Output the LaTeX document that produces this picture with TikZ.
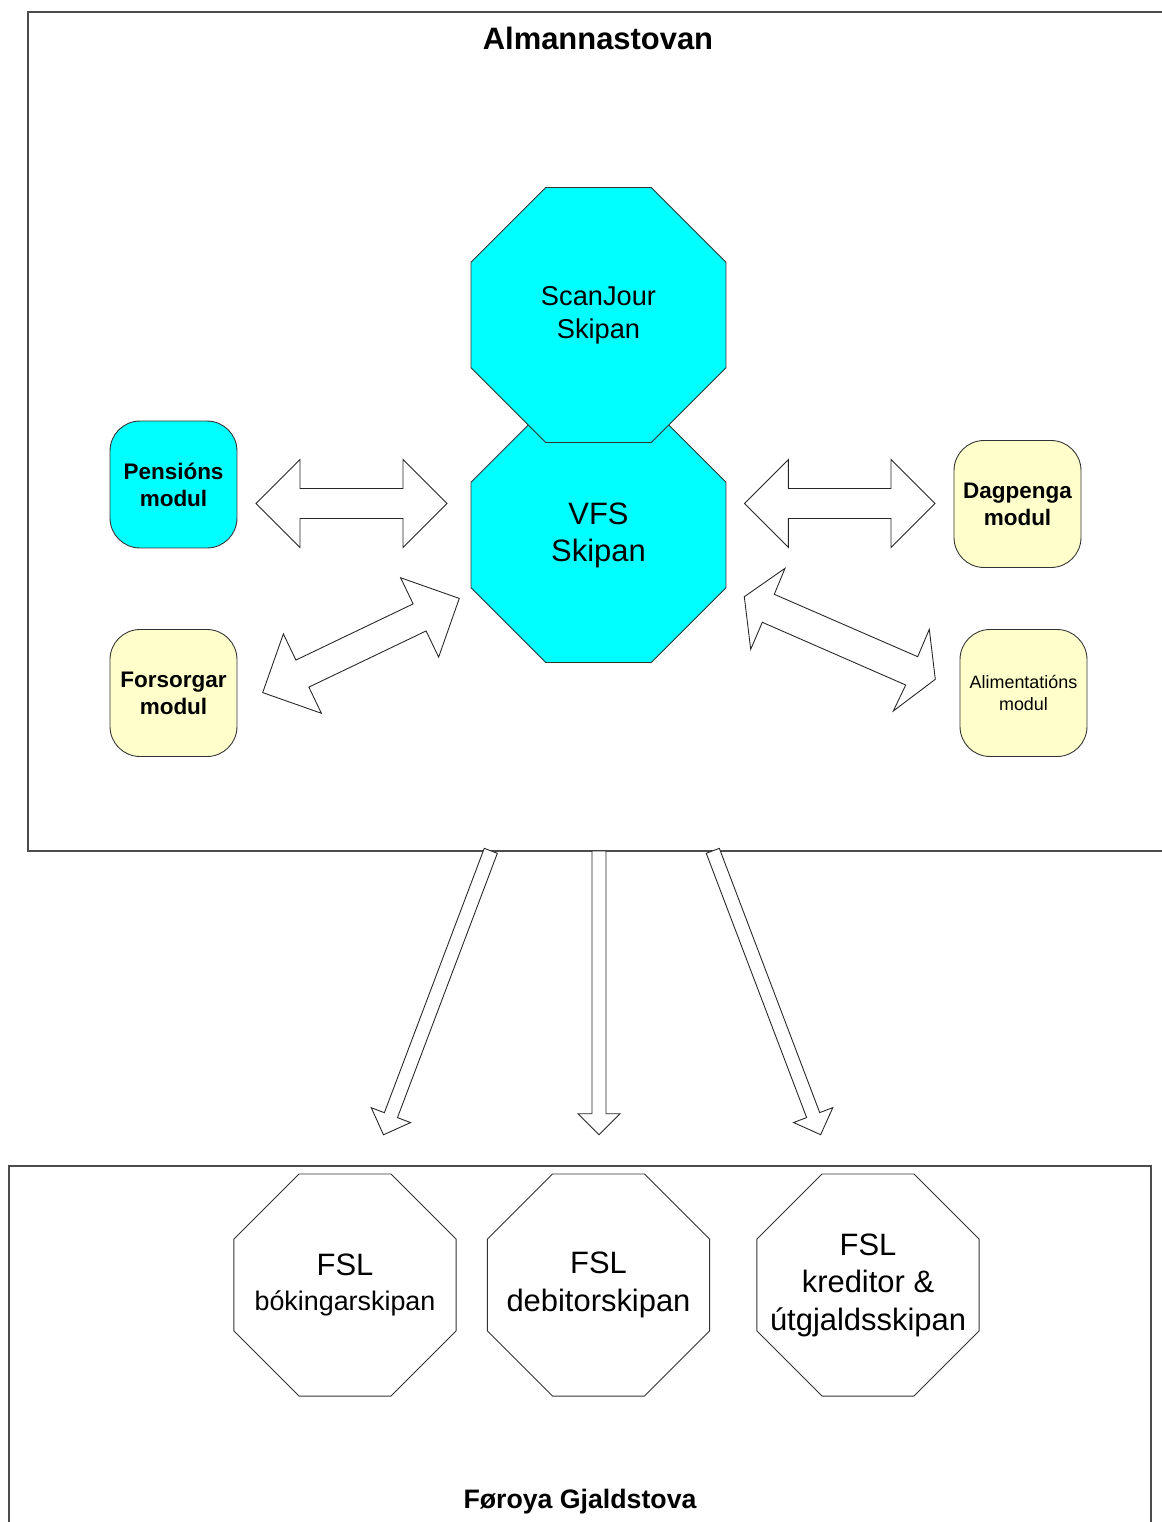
\documentclass[tikz,border=0pt]{standalone}
\usepackage{fontspec}
\setmainfont{Liberation Sans}
\usetikzlibrary{shapes.geometric,positioning}

\definecolor{vfscyan}{RGB}{0,255,255}
\definecolor{modyellow}{RGB}{255,255,204}

\begin{document}
\begin{tikzpicture}[x=0.02cm, y=-0.02cm,
  frame/.style={draw=black!70, line width=0.8pt},
  oct/.style={regular polygon, regular polygon sides=8, draw=black!80, line width=0.5pt, inner sep=0pt, align=center},
  octtext/.style={inner sep=0pt, align=center},
  modbox/.style={draw=black!80, line width=0.5pt, rounded corners=0.6cm, minimum width=2.54cm, minimum height=2.54cm, inner sep=0pt, align=center},
  blockarrow/.style={draw=black!85, line width=0.5pt, fill=white, line join=miter}
]
  \useasboundingbox (0,0) rectangle (1161,1522);

  % Rammur
  \draw[frame] (1170,12) -- (28,12) -- (28,851) -- (1170,851);
  \draw[frame] (9,1540) -- (9,1166) -- (1151,1166) -- (1151,1540);

  \node[font=\bfseries\fontsize{17.6}{21}\selectfont] (almanna) at (598,38) {Almannastovan};
  \node[font=\bfseries\fontsize{15.2}{18}\selectfont] (gjaldstova) at (580,1502) {Føroya Gjaldstova};

  % Skipanir
  \node[oct, fill=vfscyan, minimum size=5.52cm, font=\fontsize{17.6}{21}\selectfont] (vfs) at (598.5,535) {VFS\\Skipan};
  \node[oct, fill=vfscyan, minimum size=5.52cm, font=\fontsize{15.5}{18.8}\selectfont] (scanjour) at (598.5,315) {ScanJour\\Skipan};

  \node[modbox, fill=vfscyan, font=\bfseries\fontsize{12.8}{15.4}\selectfont] (pension) at (173.5,484.5) {Pensións\\modul};
  \node[modbox, fill=modyellow, font=\bfseries\fontsize{12.8}{15.4}\selectfont] (forsorg) at (173.5,693) {Forsorgar\\modul};
  \node[modbox, fill=modyellow, font=\bfseries\fontsize{12.8}{15.4}\selectfont] (dagpeng) at (1017.5,504) {Dagpenga\\modul};
  \node[modbox, fill=modyellow, font=\fontsize{10.2}{12.5}\selectfont] (aliment) at (1023.5,693) {Alimentatións\\modul};

  \node[oct, minimum size=4.81cm] (fslbok) at (345,1285) {};
  \node[oct, minimum size=4.81cm] (fsldeb) at (598.5,1285) {};
  \node[oct, minimum size=4.81cm] (fslkred) at (868,1285) {};
  \node[octtext, font=\fontsize{17.6}{20}\selectfont] (fslboktxt) at (fslbok) {FSL\\{\fontsize{15.3}{20}\selectfont bókingarskipan}};
  \node[octtext, font=\fontsize{17.6}{21.6}\selectfont] (fsldebtxt) at (fsldeb) {FSL\\debitorskipan};
  \node[octtext, font=\fontsize{17.6}{21.3}\selectfont] (fslkredtxt) at (fslkred) {FSL\\kreditor \&\\útgjaldsskipan};

  % Tvíveg pílar
  \foreach \cx/\cy/\h/\a in {351.5/503.5/95.5/0, 839.7/503.5/95.3/0, 361/645.5/109/25.6}
    \draw[blockarrow, shift={(\cx,\cy)}, rotate=\a] (-\h,0) -- ({-\h+44},-44) -- ({-\h+44},-15) -- ({\h-44},-15) -- ({\h-44},-44)
      -- (\h,0) -- ({\h-44},44) -- ({\h-44},15) -- ({-\h+44},15) -- ({-\h+44},44) -- cycle;
  \draw[blockarrow] (744.3,596.7) -- (785,568.3) -- (774.3,594.3) -- (917.7,656.7) -- (929.3,629.3) -- (935.3,679.3)
    -- (893.3,711) -- (905.7,685) -- (762.3,622.3) -- (750.7,649.3) -- cycle;

  % Pílar niður
  \foreach \cx/\cy/\l/\a in {490.8/850.8/303.6/249.3, 599/851/283.7/-90, 712.8/850.8/303.7/-69.2}
    \draw[blockarrow, shift={(\cx,\cy)}, rotate=\a] (0,-7) -- ({\l-21},-7) -- ({\l-21},-21) -- (\l,0) -- ({\l-21},21) -- ({\l-21},7) -- (0,7) -- cycle;
\end{tikzpicture}
\end{document}
